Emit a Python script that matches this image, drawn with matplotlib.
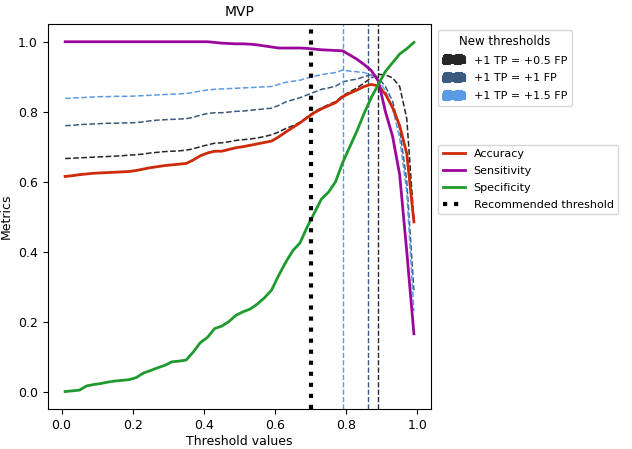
import numpy as np
import matplotlib
matplotlib.use("Agg")
import matplotlib.pyplot as plt
import matplotlib.patches as mpatches
from matplotlib.lines import Line2D

# thresholds 0.01 ... 0.99
thresholds = np.round(np.arange(0.01, 1.0, 0.02), 2)

accuracy = [0.615, 0.617, 0.620, 0.622, 0.624, 0.625, 0.626, 0.627, 0.628, 0.629,
            0.632, 0.636, 0.640, 0.643, 0.646, 0.648, 0.650, 0.652, 0.662, 0.674,
            0.682, 0.687, 0.687, 0.692, 0.697, 0.700, 0.704, 0.708, 0.712, 0.716,
            0.728, 0.742, 0.755, 0.768, 0.783, 0.797, 0.808, 0.817, 0.826, 0.843,
            0.853, 0.862, 0.872, 0.878, 0.874, 0.850, 0.812, 0.760, 0.680, 0.485]

sensitivity = [1.0] * 21 + [
            0.998, 0.996, 0.995, 0.994, 0.994, 0.993, 0.991, 0.988, 0.985,
            0.982, 0.982, 0.982, 0.982, 0.981, 0.979, 0.977, 0.976, 0.975, 0.974,
            0.962, 0.950, 0.935, 0.918, 0.888, 0.800, 0.730, 0.620, 0.400, 0.165]

specificity = [0.000, 0.002, 0.004, 0.016, 0.020, 0.023, 0.027, 0.030, 0.032, 0.034,
               0.040, 0.053, 0.060, 0.068, 0.075, 0.085, 0.087, 0.090, 0.113, 0.140,
               0.155, 0.180, 0.187, 0.200, 0.218, 0.228, 0.236, 0.250, 0.268, 0.290,
               0.332, 0.370, 0.403, 0.425, 0.470, 0.510, 0.550, 0.570, 0.600, 0.655,
               0.700, 0.745, 0.795, 0.840, 0.878, 0.915, 0.940, 0.965, 0.980, 0.998]

# weighted scores for the new thresholds
score_05 = [0.666, 0.667, 0.668, 0.669, 0.670, 0.671, 0.672, 0.673, 0.674, 0.676,
            0.677, 0.679, 0.682, 0.684, 0.686, 0.687, 0.688, 0.690, 0.694, 0.700,
            0.705, 0.710, 0.711, 0.714, 0.718, 0.720, 0.722, 0.725, 0.729, 0.734,
            0.742, 0.752, 0.760, 0.770, 0.785, 0.800, 0.811, 0.820, 0.829, 0.846,
            0.857, 0.868, 0.882, 0.897, 0.907, 0.905, 0.897, 0.872, 0.780, 0.490]

score_1 = [0.760, 0.761, 0.763, 0.764, 0.765, 0.766, 0.767, 0.767, 0.768, 0.768,
           0.769, 0.771, 0.774, 0.776, 0.777, 0.778, 0.779, 0.780, 0.784, 0.790,
           0.795, 0.797, 0.797, 0.799, 0.801, 0.802, 0.804, 0.806, 0.808, 0.810,
           0.818, 0.828, 0.834, 0.840, 0.848, 0.856, 0.864, 0.868, 0.873, 0.885,
           0.890, 0.893, 0.900, 0.906, 0.897, 0.872, 0.830, 0.750, 0.600, 0.290]

score_15 = [0.838, 0.839, 0.840, 0.841, 0.842, 0.843, 0.843, 0.844, 0.844, 0.844,
            0.845, 0.846, 0.847, 0.848, 0.849, 0.850, 0.851, 0.852, 0.855, 0.859,
            0.862, 0.864, 0.865, 0.866, 0.867, 0.868, 0.869, 0.870, 0.871, 0.872,
            0.878, 0.884, 0.887, 0.890, 0.896, 0.901, 0.906, 0.909, 0.912, 0.919,
            0.916, 0.914, 0.912, 0.905, 0.890, 0.860, 0.810, 0.725, 0.570, 0.230]

recommended = 0.70
new_thr = [0.89, 0.86, 0.79]
new_labels = ["+1 TP = +0.5 FP", "+1 TP = +1 FP", "+1 TP = +1.5 FP"]
new_colors = ["#262626", "#3a5a80", "#5b9be6"]

fig = plt.figure(figsize=(6.32, 4.49), dpi=100)
ax = fig.add_axes([0.0755, 0.089, 0.607, 0.857])

for s, c in zip([score_05, score_1, score_15], new_colors):
    ax.plot(thresholds, s, color=c, linestyle="--", linewidth=1.1)
for t, c in zip(new_thr, new_colors):
    ax.axvline(t, color=c, linestyle="--", linewidth=1.0)

ax.plot(thresholds, accuracy, color="#cc2a08", linewidth=2)
ax.plot(thresholds, sensitivity, color="#9c069c", linewidth=2)
ax.plot(thresholds, specificity, color="#1f9a2e", linewidth=2)
ax.axvline(recommended, color="black", linestyle=":", linewidth=3)

ax.set_title("MVP", fontsize=10)
ax.set_xlabel("Threshold values", fontsize=9, labelpad=2)
ax.set_ylabel("Metrics", fontsize=9)
ax.tick_params(labelsize=9)

h1 = [mpatches.Patch(facecolor=c, edgecolor=c, linestyle="--", linewidth=1.5)
      for c in new_colors]
fig.legend(h1, new_labels, title="New thresholds", loc="upper left",
           bbox_to_anchor=(0.688, 0.94), fontsize=8, title_fontsize=8.5,
           borderaxespad=0.3, labelspacing=0.7, handleheight=0.8)

h2 = [Line2D([], [], color="#cc2a08", linewidth=2),
      Line2D([], [], color="#9c069c", linewidth=2),
      Line2D([], [], color="#1f9a2e", linewidth=2),
      Line2D([], [], color="black", linestyle=":", linewidth=3)]
fig.legend(h2, ["Accuracy", "Sensitivity", "Specificity", "Recommended threshold"],
           loc="upper left", bbox_to_anchor=(0.688, 0.685), fontsize=8,
           borderaxespad=0.3, labelspacing=0.62)

fig.savefig("out.png", dpi=100)
